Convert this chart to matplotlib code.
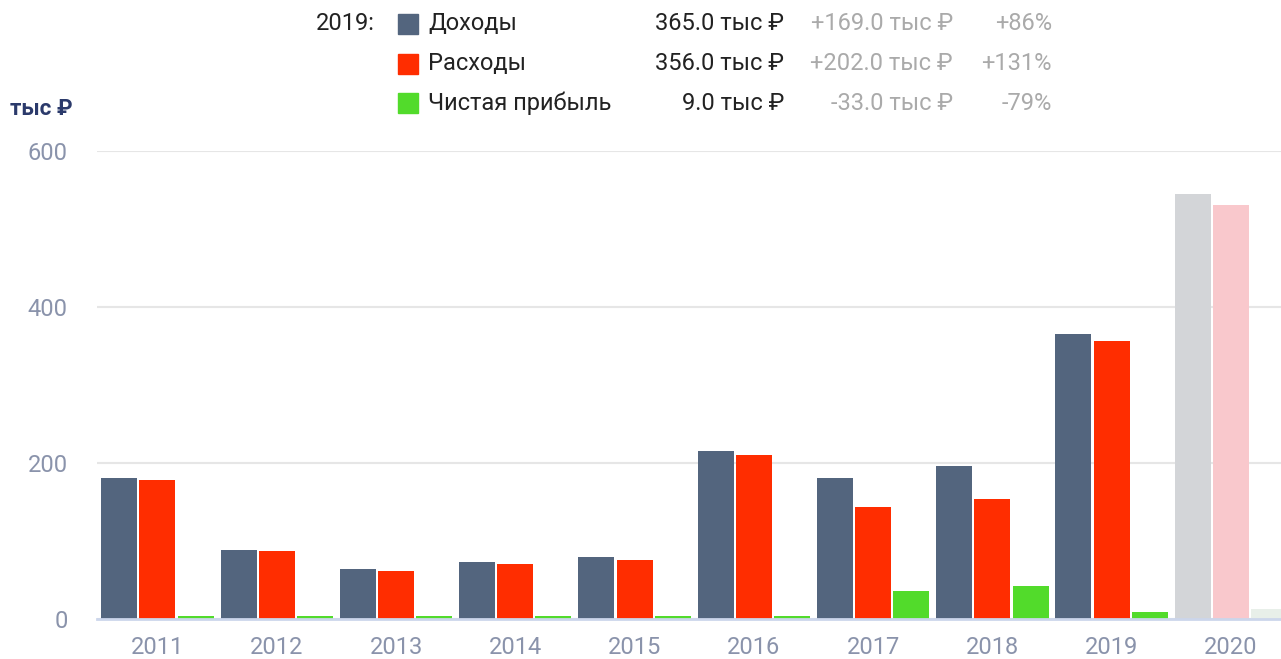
import matplotlib
matplotlib.use("Agg")
import matplotlib.pyplot as plt
from matplotlib import font_manager as fm
import numpy as np

years = ["2011", "2012", "2013", "2014", "2015", "2016", "2017", "2018", "2019", "2020"]
income = [181, 88, 64, 73, 79, 215, 181, 196, 365, 545]
expenses = [178, 87, 62, 70, 76, 210, 144, 154, 356, 531]
profit = [4, 4, 4, 4, 4, 4, 36, 42, 9, 13]

series_names = ["Доходы", "Расходы", "Чистая прибыль"]
legend_values = ["365.0 тыс ₽", "356.0 тыс ₽", "9.0 тыс ₽"]
legend_diffs = ["+169.0 тыс ₽", "+202.0 тыс ₽", "-33.0 тыс ₽"]
legend_pcts = ["+86%", "+131%", "-79%"]
yticks = [0, 200, 400, 600]

colors = ["#53657e", "#ff2d00", "#52db2b"]
light_colors = ["#d3d5d8", "#f9c8cc", "#e8efe9"]

avail = {f.name for f in fm.fontManager.ttflist}
main_font = "DejaVu Sans"
for cand in ["Roboto", "Open Sans"]:
    if cand in avail:
        main_font = cand
        break
fam = [main_font, "DejaVu Sans"]
plt.rcParams["font.family"] = fam

W, H = 1281, 659
fig = plt.figure(figsize=(W / 100, H / 100), dpi=100)
ax = fig.add_axes([97 / W, 1 - 619 / H, 1 - 97 / W, (619 - 151) / H])

x = np.arange(len(years))
bw = 0.302
offs = [-0.32, 0.0, 0.32]
for si, vals in enumerate([income, expenses, profit]):
    cols = [colors[si]] * (len(years) - 1) + [light_colors[si]]
    ax.bar(x + offs[si], vals, width=bw, color=cols, zorder=3, linewidth=0)

ax.set_xlim(-0.507, 9.42)
ax.set_ylim(0, 600)
ax.set_yticks(yticks)
ax.set_yticklabels([str(v) for v in yticks])
ax.set_xticks(x)
ax.set_xticklabels(years)
ax.tick_params(axis="both", length=0, labelsize=17, labelcolor="#8a93ab")
ax.tick_params(axis="y", pad=21)
ax.tick_params(axis="x", pad=12)
ax.grid(axis="y", color="#e6e6e6", linewidth=1.5, zorder=0)
for s in ["top", "right", "left"]:
    ax.spines[s].set_visible(False)
ax.spines["bottom"].set_color("#ccd6eb")
ax.spines["bottom"].set_linewidth(2)
ax.spines["bottom"].set_zorder(4)

fig.text(10 / W, 1 - 109 / H, "тыс ₽", fontsize=16, fontweight="bold", color="#2b3a6b",
         ha="left", va="center", family=fam)

rows_y = [24, 64, 103]
fig.text(375 / W, 1 - rows_y[0] / H, "2019:", fontsize=17, color="#222222", ha="right", va="center")
for i in range(3):
    yc = 1 - rows_y[i] / H
    fig.patches.append(plt.Rectangle((398 / W, yc - 10 / H), 20 / W, 20 / H, transform=fig.transFigure,
                                     color=colors[i], figure=fig))
    fig.text(428 / W, yc, series_names[i], fontsize=17, color="#222222", ha="left", va="center")
    fig.text(784 / W, yc, legend_values[i], fontsize=17, color="#222222", ha="right", va="center")
    fig.text(953 / W, yc, legend_diffs[i], fontsize=17, color="#aaaaaa", ha="right", va="center")
    fig.text(1052 / W, yc, legend_pcts[i], fontsize=17, color="#aaaaaa", ha="right", va="center")

fig.savefig("out.png", dpi=100)
